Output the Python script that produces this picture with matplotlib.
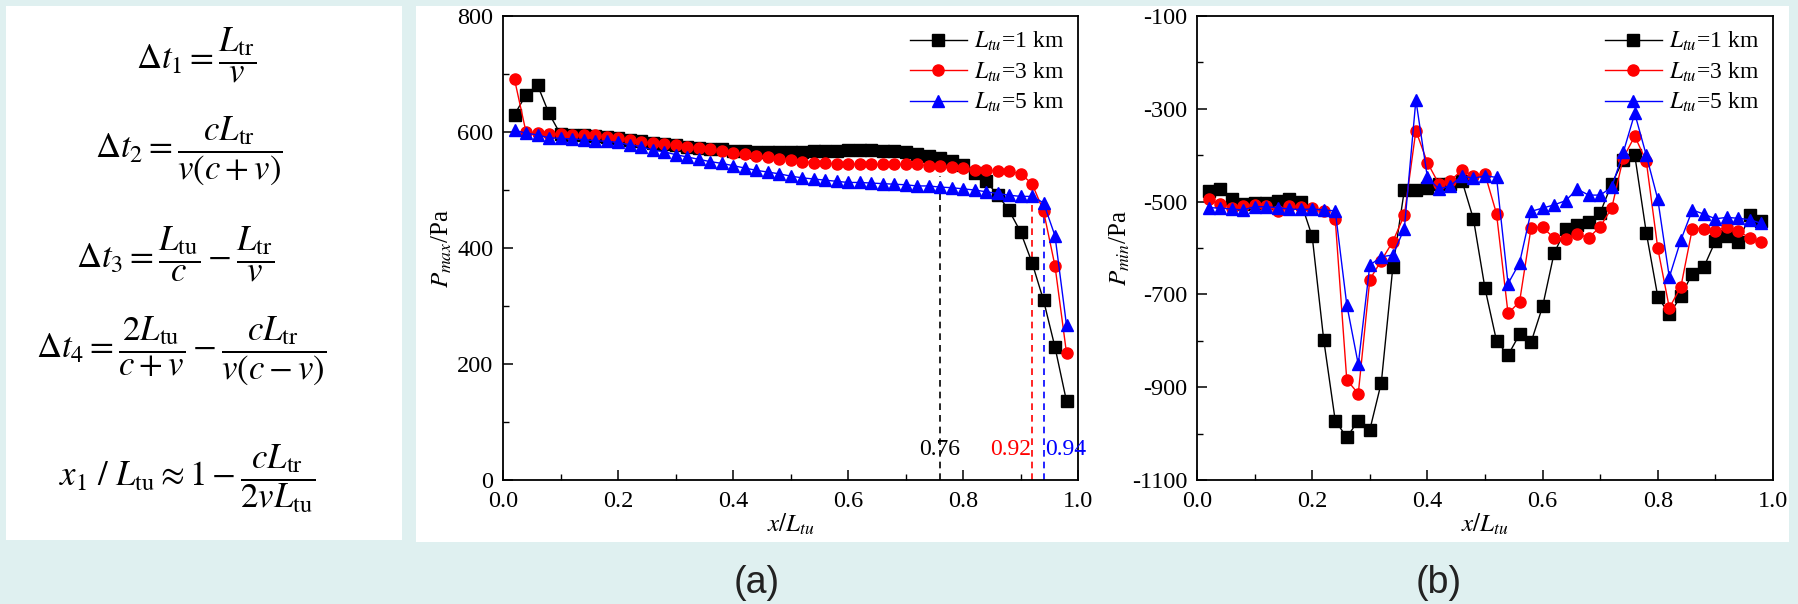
import matplotlib
matplotlib.use("Agg")
import matplotlib.pyplot as plt
import numpy as np
from matplotlib.patches import Rectangle
from matplotlib.ticker import MultipleLocator

plt.rcParams['font.family'] = ['Liberation Serif', 'DejaVu Serif']
plt.rcParams['mathtext.fontset'] = 'stix'
plt.rcParams['axes.unicode_minus'] = False

# x positions of the sampled points (x / L_tu)
x_pos = np.arange(1, 50) * 0.02

# (a) maximum pressure, Pa
pmax_1km = [630, 664, 681, 632, 596, 595, 594, 593, 591, 589, 587, 584, 581, 579, 577, 575,
            573, 571, 570, 568, 567, 566, 566, 566, 566, 566, 567, 567, 568, 569, 569, 569,
            568, 567, 565, 562, 559, 555, 550, 543, 529, 515, 492, 465, 428, 375, 310, 229, 136]
pmax_3km = [691, 600, 598, 597, 596, 595, 594, 594, 591, 590, 587, 583, 581, 579, 577, 575,
            572, 570, 567, 564, 562, 559, 557, 554, 552, 549, 547, 546, 545, 545, 544, 544,
            544, 544, 544, 544, 542, 541, 540, 538, 535, 534, 533, 532, 528, 511, 464, 369, 219]
pmax_5km = [603, 598, 595, 590, 589, 588, 587, 585, 584, 582, 578, 575, 569, 566, 561, 557,
            553, 549, 546, 542, 538, 534, 531, 528, 524, 521, 519, 517, 515, 513, 513, 512,
            511, 510, 509, 507, 507, 505, 504, 502, 500, 497, 494, 491, 489, 489, 478, 421, 267]

# (b) minimum pressure, Pa
pmin_1km = [-478, -473, -495, -505, -503, -503, -498, -495, -500, -575, -798, -972, -1008,
            -972, -992, -890, -641, -475, -474, -470, -462, -462, -455, -538, -687, -800,
            -831, -786, -803, -726, -611, -560, -550, -544, -524, -462, -410, -400, -567,
            -705, -743, -704, -655, -641, -585, -575, -586, -529, -542]
pmin_3km = [-495, -505, -513, -509, -507, -509, -520, -509, -511, -514, -521, -538, -884,
            -914, -668, -627, -586, -529, -347, -416, -462, -455, -432, -444, -441, -526,
            -741, -716, -556, -555, -579, -580, -570, -578, -554, -514, -406, -359, -413,
            -601, -729, -684, -558, -558, -563, -555, -563, -579, -588]
pmin_5km = [-513, -514, -516, -518, -511, -511, -513, -516, -517, -516, -518, -520, -722,
            -851, -637, -619, -615, -558, -281, -448, -473, -466, -444, -450, -444, -448,
            -677, -632, -521, -514, -507, -498, -473, -486, -486, -469, -394, -310, -400,
            -495, -663, -583, -518, -527, -537, -534, -536, -539, -547]

labels = [r'$L_{tu}$=1 km', r'$L_{tu}$=3 km', r'$L_{tu}$=5 km']
colors = ['black', 'red', 'blue']
markers = ['s', 'o', '^']

# y ticks of (b)
pmin_major = [-1100, -900, -700, -500, -300, -100]
pmin_minor = [-1000, -800, -600, -400, -200]

# critical positions in (a)
crit_x = [0.76, 0.92, 0.94]
crit_top = [525, 480, 478]
crit_txt = ['0.76', '0.92', '0.94']

equations = [
    r'$\Delta t_1 = \dfrac{L_{\mathrm{tr}}}{v}$',
    r'$\Delta t_2 = \dfrac{cL_{\mathrm{tr}}}{v(c+v)}$',
    r'$\Delta t_3 = \dfrac{L_{\mathrm{tu}}}{c} - \dfrac{L_{\mathrm{tr}}}{v}$',
    r'$\Delta t_4 = \dfrac{2L_{\mathrm{tu}}}{c+v} - \dfrac{cL_{\mathrm{tr}}}{v(c-v)}$',
    r'$x_1\ /\ L_{\mathrm{tu}} \approx 1 - \dfrac{cL_{\mathrm{tr}}}{2vL_{\mathrm{tu}}}$',
]
eq_y = [55, 151, 254, 351, 479]
eq_x = [196, 189, 175, 181, 187]

W, H = 1798, 604
fig = plt.figure(figsize=(W / 100, H / 100), dpi=100)
fig.patch.set_facecolor('#dff0f0')


def fx(px):
    return px / W


def fy(py):
    return 1 - py / H


# white boxes behind everything
fig.patches.append(Rectangle((fx(6), fy(540)), fx(396), 534 / H, transform=fig.transFigure,
                             facecolor='white', edgecolor='none', zorder=-10))
fig.patches.append(Rectangle((fx(416), fy(542)), fx(1373), 536 / H, transform=fig.transFigure,
                             facecolor='white', edgecolor='none', zorder=-10))

for eq, ex, ey in zip(equations, eq_x, eq_y):
    fig.text(fx(ex), fy(ey), eq, ha='center', va='center', fontsize=25)


def style_axes(ax):
    ax.set_facecolor('none')
    ax.set_zorder(5)
    for s in ax.spines.values():
        s.set_linewidth(1.3)
    ax.tick_params(which='both', direction='in', top=False, right=False, labelsize=17.5)
    ax.tick_params(which='major', length=7, width=1.1)
    ax.tick_params(which='minor', length=4, width=1.0)
    ax.tick_params(axis='x', pad=8)
    ax.tick_params(axis='y', pad=7)
    ax.xaxis.set_major_locator(MultipleLocator(0.2))
    ax.xaxis.set_minor_locator(MultipleLocator(0.1))
    ax.set_xlim(0, 1.0)
    ax.set_xlabel(r'$x/L_{tu}$', fontsize=18, labelpad=0)


def draw_series(ax, series):
    for ys, lab, c, m in zip(series, labels, colors, markers):
        ax.plot(x_pos, ys, color=c, marker=m, markersize=8, lw=1.0, label=lab,
                clip_on=False, zorder=3)
    ax.legend(loc='upper right', frameon=False, fontsize=17, handlelength=2.4,
              handletextpad=0.3, labelspacing=0.3, borderaxespad=0.2)


# (a)
ax1 = fig.add_axes([fx(503), fy(480), fx(575), 464 / H])
style_axes(ax1)
draw_series(ax1, [pmax_1km, pmax_3km, pmax_5km])
ax1.set_ylim(0, 800)
ax1.yaxis.set_major_locator(MultipleLocator(200))
ax1.yaxis.set_minor_locator(MultipleLocator(100))
ax1.set_ylabel(r'$P_{max}$/Pa', fontsize=18, labelpad=2)
for cx, top, c in zip(crit_x, crit_top, colors):
    ax1.plot([cx, cx], [0, top], color=c, ls=(0, (4, 3)), lw=1.2, zorder=2)
ax1.text(0.76, 52, crit_txt[0], color='black', ha='center', va='center', fontsize=17)
ax1.text(0.918, 52, crit_txt[1], color='red', ha='right', va='center', fontsize=17)
ax1.text(0.942, 52, crit_txt[2], color='blue', ha='left', va='center', fontsize=17)

# (b)
ax2 = fig.add_axes([fx(1197), fy(480), fx(576), 464 / H])
style_axes(ax2)
draw_series(ax2, [pmin_1km, pmin_3km, pmin_5km])
ax2.set_ylim(-1100, -100)
ax2.set_yticks(pmin_major)
ax2.set_yticks(pmin_minor, minor=True)
ax2.set_ylabel(r'$P_{min}$/Pa', fontsize=18, labelpad=0)

fig.text(fx(757), fy(583), '(a)', ha='center', va='center', fontsize=27,
         family='Liberation Sans', color='#222222')
fig.text(fx(1439), fy(583), '(b)', ha='center', va='center', fontsize=27,
         family='Liberation Sans', color='#222222')

fig.savefig('out.png', dpi=100, facecolor=fig.get_facecolor())
